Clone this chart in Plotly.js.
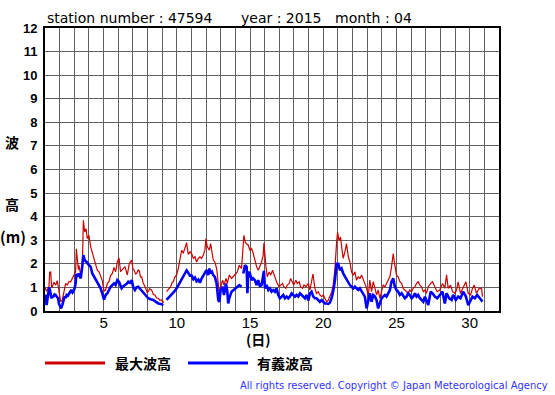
<!DOCTYPE html>
<html>
<head>
<meta charset="utf-8">
<script src="https://cdn.plot.ly/plotly-3.0.1.min.js"></script>
<style>
html,body{margin:0;padding:0;background:#fff;}
#chart{width:555px;height:395px;}
</style>
</head>
<body>
<div id="chart"></div>
<script>
// ---- data ----
const stationNumber = "47594";
const year = "2015";
const month = "04";
const seriesNames = ["最大波高", "有義波高"];

// day of month (fractional) for the maximum wave height series
const dayMax = [1.0,1.09,1.16,1.27,1.32,1.39,1.45,1.5,1.61,1.73,1.84,1.96,2.07,2.18,2.3,2.41,2.52,2.64,2.75,2.87,2.98,3.09,3.14,3.21,3.28,3.32,3.44,3.55,3.62,3.71,3.8,3.89,4.0,4.12,4.23,4.35,4.46,4.57,4.69,4.8,4.91,5.03,5.14,5.26,5.37,5.48,5.6,5.71,5.82,5.94,6.05,6.16,6.3,6.46,6.62,6.76,6.92,7.0,7.08,7.18,7.26,7.36,7.44,7.52,7.6,7.7,7.83,7.98,8.05,8.15,8.28,8.4,8.51,8.62,8.74,8.85,8.96,9.05,9.12,9.2,9.3,9.45,9.58,9.68,9.76,9.88,9.99,10.1,10.22,10.33,10.44,10.56,10.67,10.78,10.9,11.01,11.13,11.24,11.35,11.47,11.58,11.69,11.81,11.92,11.99,12.08,12.22,12.31,12.4,12.49,12.6,12.72,12.83,12.9,12.99,13.13,13.22,13.36,13.45,13.58,13.74,13.9,14.04,14.13,14.27,14.42,14.54,14.58,14.68,14.77,14.88,14.99,15.11,15.22,15.33,15.45,15.56,15.68,15.79,15.9,15.95,16.09,16.18,16.31,16.4,16.54,16.63,16.77,16.86,16.99,17.09,17.22,17.31,17.45,17.54,17.68,17.77,17.91,17.99,18.13,18.22,18.36,18.45,18.59,18.68,18.82,18.98,19.09,19.2,19.3,19.43,19.54,19.66,19.77,19.89,20.0,20.11,20.23,20.34,20.45,20.57,20.68,20.8,20.91,20.98,21.07,21.18,21.27,21.36,21.48,21.59,21.71,21.82,21.93,22.05,22.16,22.27,22.39,22.5,22.62,22.73,22.84,22.96,23.07,23.18,23.3,23.41,23.53,23.64,23.75,23.87,23.98,24.09,24.21,24.32,24.44,24.55,24.66,24.78,24.85,24.94,25.0,25.12,25.23,25.35,25.46,25.57,25.69,25.8,25.91,26.03,26.14,26.26,26.37,26.48,26.6,26.71,26.83,26.94,27.05,27.17,27.33,27.46,27.62,27.78,27.96,28.14,28.3,28.42,28.53,28.69,28.83,28.99,29.1,29.21,29.37,29.55,29.74,29.9,30.06,30.19,30.31,30.46,30.65,30.81,30.87];
// maximum wave height (m); null = missing data
const waveMax = [1.0,0.86,0.89,1.03,1.64,1.66,1.0,1.03,1.22,1.10,1.28,0.82,0.40,0.46,0.90,1.17,1.10,1.25,1.24,1.40,1.52,1.66,2.64,2.15,1.75,1.94,1.50,1.94,3.85,3.35,3.49,3.07,3.21,2.72,2.5,2.22,1.94,1.73,1.66,1.45,1.30,0.85,0.89,1.17,1.24,1.5,1.59,1.85,1.66,2.08,2.25,1.67,1.75,1.88,1.53,2.02,2.16,1.8,1.74,1.57,1.6,1.74,1.70,1.45,1.45,1.2,1.03,0.79,0.82,0.95,0.89,0.7,0.68,0.55,0.54,0.45,0.47,0.36,0.40,null,0.82,0.95,1.03,1.21,1.24,1.45,1.53,1.8,2.2,2.58,2.45,2.72,2.9,2.4,2.51,2.44,2.23,2.3,2.08,2.23,2.3,2.23,2.37,2.58,3.07,2.72,2.58,2.86,2.51,2.15,2.08,1.8,1.17,0.75,1.03,1.31,1.10,1.38,1.17,1.52,1.38,1.52,1.59,1.66,1.94,1.8,3.07,3.21,2.9,2.86,2.79,2.58,2.65,2.44,2.15,1.87,1.73,1.94,2.08,2.37,2.88,1.87,1.45,1.66,1.52,1.73,1.52,1.31,1.17,1.03,1.10,1.17,1.03,0.96,1.10,1.17,1.38,1.17,1.10,1.31,1.17,1.24,1.03,0.96,1.10,1.03,1.17,0.89,1.24,1.57,0.96,0.75,0.82,0.68,0.61,0.68,0.54,0.39,0.46,0.62,0.8,1.1,1.8,2.9,3.35,3.0,3.14,2.65,2.23,2.51,2.86,2.3,2.08,1.66,1.52,1.66,1.31,1.45,1.38,1.52,1.31,1.17,0.96,0.61,1.31,0.82,1.24,0.96,0.68,0.89,0.54,0.82,1.10,1.03,1.17,1.31,1.45,1.87,2.44,2.08,1.66,1.52,1.45,1.24,1.17,0.96,0.89,0.82,0.75,0.89,0.82,0.96,1.03,1.17,1.24,1.10,1.03,0.82,0.89,0.75,1.03,1.17,1.24,1.03,0.82,0.89,1.17,0.96,1.53,0.96,1.10,0.82,0.75,0.89,1.24,0.75,1.03,1.24,0.75,0.68,0.96,1.10,0.75,0.96,0.96,0.61];

// day of month (fractional) for the significant wave height series
const daySig = [1.0,1.05,1.11,1.2,1.28,1.34,1.43,1.5,1.57,1.65,1.73,1.81,1.89,1.96,2.02,2.1,2.18,2.25,2.34,2.41,2.48,2.56,2.64,2.72,2.8,2.88,2.93,3.02,3.09,3.14,3.21,3.32,3.44,3.55,3.62,3.71,3.84,4.0,4.12,4.23,4.35,4.46,4.57,4.69,4.8,4.91,5.03,5.14,5.26,5.37,5.48,5.6,5.71,5.82,5.94,6.05,6.17,6.23,6.35,6.46,6.58,6.69,6.8,6.92,7.03,7.14,7.25,7.37,7.48,7.6,7.72,7.83,7.95,8.05,8.2,8.4,8.55,8.74,8.9,9.08,9.2,9.3,9.48,9.65,9.82,9.99,10.16,10.33,10.5,10.67,10.78,10.9,11.01,11.13,11.24,11.35,11.47,11.58,11.69,11.81,11.92,12.03,12.15,12.22,12.31,12.4,12.49,12.6,12.72,12.83,12.9,12.99,13.13,13.22,13.36,13.45,13.51,13.58,13.74,13.86,13.97,14.13,14.27,14.42,14.48,14.54,14.6,14.65,14.77,14.82,14.88,14.99,15.11,15.22,15.33,15.45,15.56,15.68,15.79,15.9,15.95,16.02,16.13,16.25,16.36,16.47,16.59,16.7,16.81,16.93,17.04,17.16,17.27,17.38,17.5,17.61,17.72,17.84,17.95,18.07,18.18,18.29,18.41,18.52,18.63,18.75,18.86,18.98,19.09,19.2,19.32,19.43,19.54,19.66,19.77,19.89,20.0,20.11,20.23,20.34,20.45,20.57,20.68,20.8,20.91,21.02,21.14,21.25,21.36,21.48,21.59,21.71,21.82,21.93,22.05,22.16,22.27,22.39,22.5,22.62,22.73,22.84,22.96,23.07,23.18,23.3,23.41,23.53,23.64,23.75,23.87,23.98,24.09,24.21,24.32,24.44,24.55,24.66,24.78,24.89,25.0,25.12,25.23,25.35,25.46,25.57,25.69,25.8,25.91,26.03,26.14,26.26,26.37,26.48,26.6,26.71,26.83,26.94,27.05,27.17,27.33,27.46,27.62,27.78,27.96,28.14,28.3,28.42,28.6,28.76,28.87,29.05,29.21,29.37,29.55,29.74,29.9,30.06,30.19,30.35,30.51,30.69,30.87];
// significant wave height (m); null = missing data
const waveSig = [0.6,0.68,0.25,0.75,1.0,0.89,0.54,0.6,0.61,0.7,0.68,0.6,0.54,0.3,0.18,0.11,0.25,0.39,0.61,0.55,0.68,0.65,0.75,0.8,0.89,0.78,0.82,0.95,1.17,1.57,1.45,1.59,1.38,1.94,2.37,2.15,2.08,1.94,1.87,1.59,1.45,1.31,1.17,1.03,0.96,0.75,0.48,0.68,0.75,0.89,1.03,1.10,1.17,1.10,1.31,1.24,1.0,0.96,1.05,1.1,1.15,1.24,1.2,1.31,1.0,0.89,1.0,1.03,0.95,0.89,0.8,0.68,0.6,0.54,0.5,0.47,0.4,0.32,0.3,0.25,null,0.47,0.58,0.68,0.82,0.96,1.15,1.35,1.5,1.72,1.62,1.5,1.5,1.35,1.42,1.26,1.33,1.2,1.38,1.52,1.59,1.73,1.52,1.8,1.59,1.66,1.52,1.45,1.17,0.46,0.39,0.89,1.03,0.68,1.17,0.82,0.32,0.54,0.82,0.89,0.96,1.03,1.10,1.03,null,1.59,1.8,1.94,1.87,0.75,1.66,1.59,1.31,1.38,1.31,1.10,1.31,1.03,1.10,1.45,1.7,0.96,1.10,0.89,0.96,0.82,0.89,0.82,0.96,0.68,0.54,0.61,0.68,0.54,0.61,0.54,0.61,0.75,0.68,0.61,0.68,0.61,0.75,0.68,0.61,0.54,0.68,0.45,0.75,0.82,0.61,0.54,0.54,0.46,0.39,0.46,0.39,0.32,0.32,0.3,0.35,0.55,0.85,1.3,2.0,2.0,1.73,1.8,1.59,1.45,1.31,1.17,1.10,1.03,0.96,1.03,0.96,0.89,0.96,0.82,0.75,0.61,0.11,0.46,0.75,0.39,0.68,0.61,0.46,0.11,0.32,0.54,0.61,0.68,0.61,0.75,0.89,1.24,1.38,1.03,0.89,0.82,0.68,0.75,0.61,0.54,0.61,0.75,0.68,0.54,0.61,0.75,0.61,0.68,0.54,0.46,0.39,0.61,0.39,0.25,0.82,0.75,0.61,0.54,0.68,0.82,0.32,0.75,0.54,0.47,0.68,0.47,0.61,0.54,0.82,0.61,0.25,0.47,0.61,0.54,0.68,0.54,0.4];

// axis tick labels
const xTickPos = [5, 10, 15, 20, 25, 30];
const xTickLabels = ["5", "10", "15", "20", "25", "30"];
const yTickPos = [0,1,2,3,4,5,6,7,8,9,10,11,12];
const yTickLabels = ["0","1","2","3","4","5","6","7","8","9","10","11","12"];
const xAxisLabel = "(日)";
const yAxisLabelChars = ["波", "高", "(m)"];
const copyright = "All rights reserved. Copyright © Japan Meteorological Agency";

// ---- chart ----
const RED = "#cc0000", BLUE = "#0000ff", GRID = "#606060";
const plotL = 45, plotT = 28, plotW = 454, plotH = 283;
// helper to convert picture pixel positions to paper coordinates
const px = v => (v - plotL) / plotW;
const py = v => (plotT + plotH - v) / plotH;

const traces = [
  {x: dayMax, y: waveMax, type: "scatter", mode: "lines", name: seriesNames[0],
   line: {color: RED, width: 1.2}, connectgaps: false, showlegend: false},
  {x: daySig, y: waveSig, type: "scatter", mode: "lines", name: seriesNames[1],
   line: {color: BLUE, width: 2.6}, connectgaps: false, showlegend: false}
];

const annFont = {family: "DejaVu Sans", size: 14, color: "#000"};
const cjkBold = {family: "Noto Sans CJK JP", size: 14, color: "#000", weight: "bold"};

const annotations = [
  {text: "station number : " + stationNumber, x: px(46), y: py(18), xanchor: "left", yanchor: "middle", font: annFont},
  {text: "year : " + year, x: px(240), y: py(18), xanchor: "left", yanchor: "middle", font: annFont},
  {text: "month : " + month, x: px(334), y: py(18), xanchor: "left", yanchor: "middle", font: annFont},
  {text: xAxisLabel, x: px(258), y: py(339), xanchor: "center", yanchor: "middle", font: {family: "Noto Sans CJK JP", size: 14, color: "#000", weight: "bold"}},
  {text: yAxisLabelChars[0], x: px(12), y: py(142), xanchor: "center", yanchor: "middle", font: cjkBold},
  {text: yAxisLabelChars[1], x: px(12), y: py(204), xanchor: "center", yanchor: "middle", font: cjkBold},
  {text: yAxisLabelChars[2], x: px(12.5), y: py(237), xanchor: "center", yanchor: "middle", font: {family: "Noto Sans CJK JP", size: 15, color: "#000", weight: "bold"}},
  {text: seriesNames[0], x: px(114), y: py(363), xanchor: "left", yanchor: "middle", font: cjkBold},
  {text: seriesNames[1], x: px(256), y: py(363), xanchor: "left", yanchor: "middle", font: cjkBold},
  {text: copyright, x: px(549), y: py(385), xanchor: "right", yanchor: "middle", font: {family: "DejaVu Sans", size: 10, color: "#3333ff"}}
].map(a => Object.assign({xref: "paper", yref: "paper", showarrow: false, borderpad: 0}, a));

const shapes = [
  {type: "line", xref: "paper", yref: "paper", x0: px(45), x1: px(105), y0: py(363), y1: py(363), line: {color: RED, width: 3}},
  {type: "line", xref: "paper", yref: "paper", x0: px(188), x1: px(248), y0: py(363), y1: py(363), line: {color: BLUE, width: 3}}
];

const layout = {
  width: 555, height: 395,
  margin: {l: plotL, r: 555 - plotL - plotW, t: plotT, b: 395 - plotT - plotH, pad: 0},
  paper_bgcolor: "#ffffff", plot_bgcolor: "#ffffff",
  showlegend: false,
  xaxis: {
    range: [1, 32], tickmode: "array", tickvals: xTickPos, ticktext: xTickLabels,
    showgrid: true, gridcolor: GRID, gridwidth: 1,
    minor: {tick0: 1, dtick: 1, showgrid: true, gridcolor: GRID, gridwidth: 1},
    showline: true, linecolor: "#000", linewidth: 2, mirror: true,
    ticks: "", zeroline: false, ticklabelstandoff: -3,
    tickfont: {family: "Liberation Sans", size: 15, color: "#000"}
  },
  yaxis: {
    range: [0, 12], tickmode: "array", tickvals: yTickPos, ticktext: yTickLabels,
    showgrid: true, gridcolor: GRID, gridwidth: 1,
    showline: true, linecolor: "#000", linewidth: 2, mirror: true,
    ticks: "", zeroline: false, ticklabelstandoff: 3,
    tickfont: {family: "Liberation Sans", size: 13, color: "#000", weight: "bold"}
  },
  annotations: annotations,
  shapes: shapes
};

Plotly.newPlot("chart", traces, layout, {staticPlot: true, displayModeBar: false});
</script>
</body>
</html>
